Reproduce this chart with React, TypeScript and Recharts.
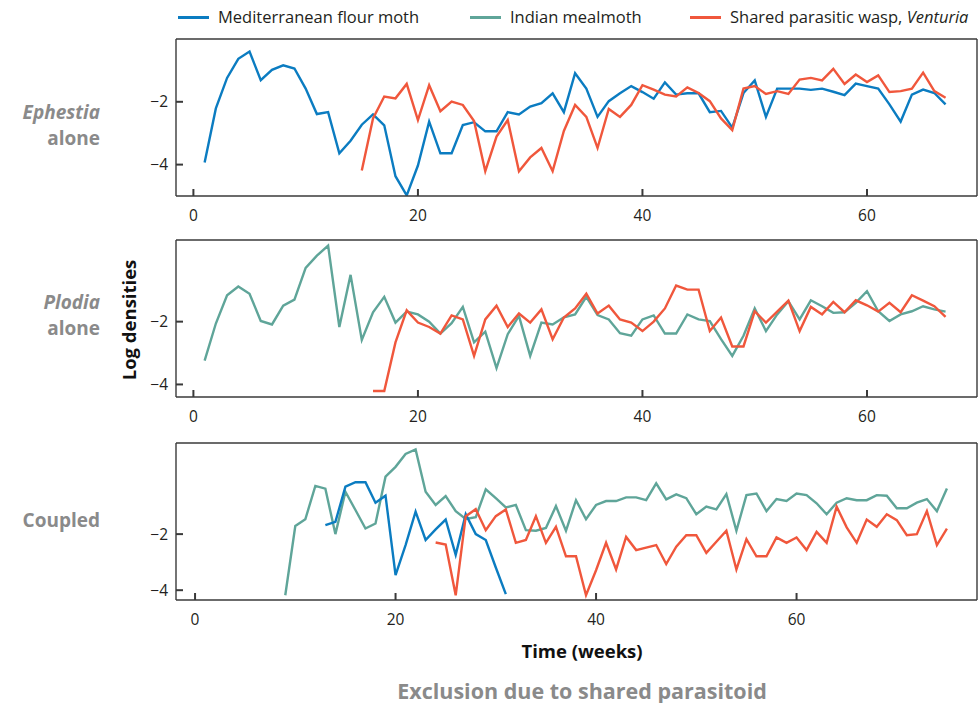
import React from "react";
import { LineChart, Line, XAxis, YAxis } from "recharts";

const weekTicks = [0, 20, 40, 60];
const densityTicks = [-4, -2];

// Ephestia alone
const ephMothStart = 1;
const ephMoth = [
  -3.93, -2.21, -1.24, -0.63, -0.4, -1.31, -0.98, -0.84, -0.94, -1.58,
  -2.39, -2.33, -3.64, -3.24, -2.73, -2.4, -2.75, -4.37, -4.98, -4.03,
  -2.63, -3.64, -3.64, -2.74, -2.65, -2.94, -2.94, -2.33, -2.4, -2.15,
  -2.04, -1.73, -2.33, -1.09, -1.58, -2.48, -1.98, -1.73, -1.5, -1.69,
  -1.9, -1.38, -1.77, -1.73, -1.73, -2.33, -2.29, -2.82, -1.72, -1.32,
  -2.48, -1.58, -1.58, -1.58, -1.62, -1.58, -1.68, -1.79, -1.42, -1.5,
  -1.58, -2.08, -2.63, -1.77, -1.61, -1.72, -2.08,
];
const ephWaspStart = 15;
const ephWasp = [
  -4.19, -2.53, -1.83, -1.89, -1.43, -2.58, -1.47, -2.3, -1.99, -2.1,
  -2.61, -4.21, -3.11, -2.58, -4.21, -3.77, -3.47, -4.21, -2.93, -2.1,
  -2.48, -3.47, -2.23, -2.48, -2.1, -1.47, -1.61, -1.77, -1.83, -1.54,
  -1.72, -1.98, -2.53, -2.9, -1.58, -1.5, -1.75, -1.66, -1.75, -1.29,
  -1.24, -1.32, -0.95, -1.43, -1.13, -1.37, -1.16, -1.69, -1.66, -1.58,
  -1.07, -1.66, -1.87,
];

// Plodia alone
const plodMealStart = 1;
const plodMeal = [
  -3.24, -2.06, -1.16, -0.88, -1.11, -1.98, -2.09, -1.49, -1.3, -0.29,
  0.1, 0.42, -2.17, -0.51, -2.58, -1.7, -1.21, -2.03, -1.68, -1.77,
  -2.0, -2.38, -2.05, -1.53, -2.66, -2.32, -3.48, -2.4, -1.82, -3.09,
  -2.03, -2.09, -1.86, -1.77, -1.21, -1.79, -1.93, -2.37, -2.45, -1.93,
  -1.8, -2.38, -2.38, -1.77, -1.93, -1.98, -2.56, -3.09, -2.45, -1.58,
  -2.3, -1.77, -1.35, -1.93, -1.32, -1.51, -1.72, -1.7, -1.4, -1.03,
  -1.67, -1.98, -1.77, -1.67, -1.51, -1.61, -1.68,
];
const plodWaspStart = 16;
const plodWasp = [
  -4.21, -4.21, -2.66, -1.64, -2.03, -2.17, -2.38, -1.8, -1.93, -3.09,
  -1.93, -1.49, -2.17, -1.74, -2.03, -1.61, -2.56, -1.87, -1.58, -1.11,
  -1.74, -1.49, -1.93, -2.03, -2.3, -2.0, -1.58, -0.85, -0.98, -0.98,
  -2.3, -1.87, -2.79, -2.79, -1.67, -2.03, -1.68, -1.33, -2.3, -1.53,
  -1.77, -1.37, -1.7, -1.32, -1.48, -1.68, -1.4, -1.7, -1.16, -1.33,
  -1.51, -1.85,
];

// Coupled
const coupMothStart = 13;
const coupMoth = [
  -1.68, -1.56, -0.31, -0.15, -0.15, -0.88, -0.63, -3.46, -2.39, -1.2,
  -2.21, -1.83, -1.48, -2.74, -1.29, -2.0, -2.21, -3.19, -4.14,
];
const coupMealStart = 9;
const coupMeal = [
  -4.18, -1.71, -1.47, -0.28, -0.38, -2.0, -0.49, -1.14, -1.8, -1.62,
  0.05, 0.4, 0.86, 1.02, -0.49, -0.96, -0.64, -1.18, -1.46, -1.4,
  -0.4, -0.72, -1.05, -0.96, -1.86, -1.88, -1.78, -1.0, -1.88, -0.79,
  -1.47, -0.96, -0.82, -0.82, -0.69, -0.69, -0.79, -0.19, -0.76, -0.58,
  -0.72, -1.29, -1.02, -1.12, -0.57, -1.88, -0.61, -0.55, -1.18, -0.75,
  -0.82, -0.55, -0.61, -0.9, -1.29, -0.88, -0.72, -0.79, -0.79, -0.61,
  -0.63, -1.08, -1.08, -0.88, -0.75, -1.18, -0.37,
];
const coupWaspStart = 24;
const coupWasp = [
  -2.3, -2.37, -4.18, -1.36, -1.11, -1.86, -1.36, -1.12, -2.31, -2.21,
  -1.36, -2.31, -1.74, -2.79, -2.79, -4.18, -3.29, -2.31, -3.26, -2.1,
  -2.57, -2.48, -2.39, -3.07, -2.45, -2.04, -2.04, -2.67, -2.27, -1.88,
  -3.26, -2.18, -2.79, -2.79, -2.12, -2.31, -2.12, -2.57, -1.92, -2.31,
  -1.02, -1.76, -2.31, -1.48, -1.74, -1.29, -1.5, -2.04, -2.0, -1.18,
  -2.39, -1.8,
];

const BLUE = "#0b7cc1";
const TEAL = "#5fa599";
const RED = "#f0573c";
const AXIS = "#3a3a3a";
const GREY = "#8a8a8a";
const FONT = "'Open Sans', sans-serif";

type Series = { key: string; start: number; values: number[] };

function buildRows(series: Series[]) {
  const first = Math.min(...series.map((s) => s.start));
  const last = Math.max(...series.map((s) => s.start + s.values.length - 1));
  const rows: Record<string, number | null>[] = [];
  for (let w = first; w <= last; w++) {
    const row: Record<string, number | null> = { week: w };
    series.forEach((s) => {
      const i = w - s.start;
      row[s.key] = i >= 0 && i < s.values.length ? s.values[i] : null;
    });
    rows.push(row);
  }
  return rows;
}

const ephRows = buildRows([
  { key: "moth", start: ephMothStart, values: ephMoth },
  { key: "wasp", start: ephWaspStart, values: ephWasp },
]);
const plodRows = buildRows([
  { key: "meal", start: plodMealStart, values: plodMeal },
  { key: "wasp", start: plodWaspStart, values: plodWasp },
]);
const coupRows = buildRows([
  { key: "meal", start: coupMealStart, values: coupMeal },
  { key: "moth", start: coupMothStart, values: coupMoth },
  { key: "wasp", start: coupWaspStart, values: coupWasp },
]);

const minus = (v: number) => String(v).replace("-", "\u2212");

function Panel({
  top,
  rows,
  xDomain,
  yDomain,
  lines,
}: {
  top: number;
  rows: Record<string, number | null>[];
  xDomain: [number, number];
  yDomain: [number, number];
  lines: { key: string; color: string }[];
}) {
  const plotH = 157;
  const frame = { stroke: AXIS, strokeWidth: 1.4 };
  const tickStroke = { stroke: AXIS, strokeWidth: 2 };
  return (
    <div style={{ position: "absolute", left: 0, top: top - 30 }}>
      <LineChart
        width={978}
        height={30 + plotH + 32}
        data={rows}
        margin={{ top: 29, right: 0, bottom: 2, left: 136 }}
      >
        <XAxis
          xAxisId="b"
          type="number"
          dataKey="week"
          domain={xDomain}
          allowDataOverflow
          ticks={weekTicks}
          interval={0}
          height={30}
          tickSize={-7}
          tickMargin={21}
          axisLine={frame}
          tickLine={tickStroke}
          tick={{ fill: "#231f20", fontSize: 15.5, fontFamily: FONT }}
        />
        <XAxis
          xAxisId="t"
          orientation="top"
          type="number"
          dataKey="week"
          domain={xDomain}
          allowDataOverflow
          ticks={weekTicks}
          interval={0}
          height={1}
          tickSize={-7}
          tick={false}
          axisLine={frame}
          tickLine={tickStroke}
        />
        <YAxis
          yAxisId="l"
          type="number"
          domain={yDomain}
          allowDataOverflow
          ticks={densityTicks}
          interval={0}
          width={40}
          tickSize={-7}
          tickMargin={15}
          tickFormatter={minus}
          axisLine={frame}
          tickLine={tickStroke}
          tick={{ fill: "#231f20", fontSize: 15.5, fontFamily: FONT }}
        />
        <YAxis
          yAxisId="r"
          orientation="right"
          type="number"
          domain={yDomain}
          allowDataOverflow
          ticks={densityTicks}
          width={1}
          tick={false}
          tickLine={false}
          axisLine={frame}
        />
        {lines.map((l) => (
          <Line
            key={l.key}
            xAxisId="b"
            yAxisId="l"
            type="linear"
            dataKey={l.key}
            stroke={l.color}
            strokeWidth={2.4}
            dot={false}
            activeDot={false}
            isAnimationActive={false}
          />
        ))}
      </LineChart>
    </div>
  );
}

// label lines are stacked 26px apart, centred on the given y
function RowLabel({ center, lines }: { center: number; lines: React.ReactNode[] }) {
  return (
    <>
      {lines.map((t, i) => (
        <div
          key={i}
          style={{
            position: "absolute",
            right: 978 - 100,
            top: center - 13 + i * 26,
            textAlign: "right",
            color: GREY,
            fontFamily: FONT,
            fontWeight: 700,
            fontSize: 19,
            lineHeight: "26px",
            height: 26,
            whiteSpace: "nowrap",
          }}
        >
          {t}
        </div>
      ))}
    </>
  );
}

function LegendItem({ left, color, children }: { left: number; color: string; children: React.ReactNode }) {
  return (
    <div
      style={{
        position: "absolute",
        left,
        top: 6,
        display: "flex",
        alignItems: "center",
        fontFamily: FONT,
        fontSize: 16.5,
        lineHeight: "22px",
        color: "#231f20",
        whiteSpace: "nowrap",
      }}
    >
      <span style={{ display: "inline-block", width: 31, height: 3, background: color, marginRight: 9 }} />
      <span>{children}</span>
    </div>
  );
}

export default function App() {
  return (
    <div style={{ position: "absolute", left: 0, top: 0, width: 978, height: 703, background: "#fff", overflow: "hidden" }}>
      <LegendItem left={178} color={BLUE}>Mediterranean flour moth</LegendItem>
      <LegendItem left={470} color={TEAL}>Indian mealmoth</LegendItem>
      <LegendItem left={690} color={RED}>
        Shared parasitic wasp, <i>Venturia</i>
      </LegendItem>

      <Panel
        top={39}
        rows={ephRows}
        xDomain={[-1.55, 69.8]}
        yDomain={[-5, 0]}
        lines={[
          { key: "moth", color: BLUE },
          { key: "wasp", color: RED },
        ]}
      />
      <Panel
        top={240}
        rows={plodRows}
        xDomain={[-1.55, 69.8]}
        yDomain={[-4.4, 0.6]}
        lines={[
          { key: "meal", color: TEAL },
          { key: "wasp", color: RED },
        ]}
      />
      <Panel
        top={443}
        rows={coupRows}
        xDomain={[-1.9, 78]}
        yDomain={[-4.35, 1.25]}
        lines={[
          { key: "meal", color: TEAL },
          { key: "moth", color: BLUE },
          { key: "wasp", color: RED },
        ]}
      />

      <RowLabel center={112} lines={[<i key="e">Ephestia</i>, "alone"]} />
      <RowLabel center={302} lines={[<i key="p">Plodia</i>, "alone"]} />
      <RowLabel center={520} lines={["Coupled"]} />

      <div
        style={{
          position: "absolute",
          left: 128,
          top: 320,
          transform: "translate(-50%, -50%) rotate(-90deg)",
          fontFamily: FONT,
          fontWeight: 700,
          fontSize: 18.5,
          color: "#111",
          whiteSpace: "nowrap",
        }}
      >
        Log densities
      </div>

      <div
        style={{
          position: "absolute",
          left: 582,
          top: 650,
          transform: "translate(-50%, -50%)",
          fontFamily: FONT,
          fontWeight: 700,
          fontSize: 18.5,
          color: "#111",
          whiteSpace: "nowrap",
        }}
      >
        Time (weeks)
      </div>
      <div
        style={{
          position: "absolute",
          left: 582,
          top: 690,
          transform: "translate(-50%, -50%)",
          fontFamily: FONT,
          fontWeight: 700,
          fontSize: 21.5,
          color: GREY,
          whiteSpace: "nowrap",
        }}
      >
        Exclusion due to shared parasitoid
      </div>
    </div>
  );
}
